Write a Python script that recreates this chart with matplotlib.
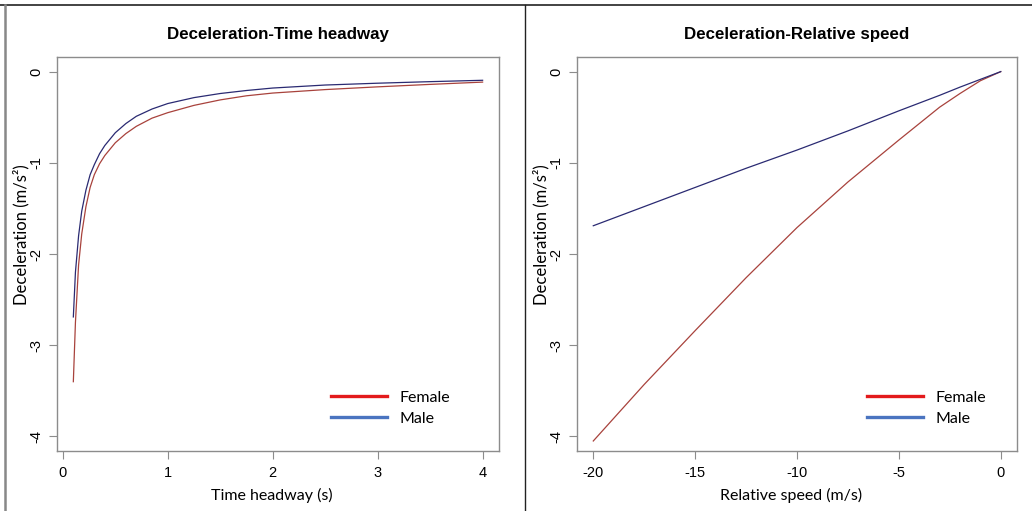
import numpy as np
import matplotlib
matplotlib.use("Agg")
from matplotlib import pyplot as plt
from matplotlib.lines import Line2D

plt.rcParams["axes.unicode_minus"] = False

# Deceleration vs time headway
headway = [0.1, 0.12, 0.15, 0.18, 0.22, 0.26, 0.3, 0.35, 0.4, 0.5, 0.6, 0.7, 0.85, 1.0,
           1.25, 1.5, 1.75, 2.0, 2.5, 3.0, 3.5, 4.0]
decel_headway_female = [-3.40, -2.75, -2.12, -1.78, -1.48, -1.27, -1.13, -1.01, -0.92, -0.78,
                        -0.68, -0.60, -0.51, -0.45, -0.37, -0.31, -0.265, -0.235, -0.197,
                        -0.167, -0.14, -0.115]
decel_headway_male = [-2.69, -2.20, -1.80, -1.53, -1.30, -1.13, -1.02, -0.90, -0.81, -0.67,
                      -0.57, -0.49, -0.41, -0.35, -0.285, -0.24, -0.207, -0.18, -0.147,
                      -0.127, -0.11, -0.095]

# Deceleration vs relative speed
rel_speed = [-20, -17.5, -15, -12.5, -10, -7.5, -5, -3, -2, -1, 0]
decel_speed_female = [-4.05, -3.43, -2.84, -2.26, -1.71, -1.21, -0.75, -0.39, -0.24, -0.10, 0.0]
decel_speed_male = [-1.69, -1.48, -1.27, -1.06, -0.86, -0.65, -0.43, -0.26, -0.17, -0.085, 0.0]

y_ticks = [0, -1, -2, -3, -4]
y_tick_labels = ["0", "-1", "-2", "-3", "-4"]
headway_ticks = [0, 1, 2, 3, 4]
speed_ticks = [-20, -15, -10, -5, 0]
speed_tick_labels = ["-20", "-15", "-10", "-5", "0"]

FEMALE_LINE = "#a8423c"
MALE_LINE = "#2a2a72"
FEMALE_KEY = "#e31a1c"
MALE_KEY = "#4a74c0"
FRAME = "#8c8c8c"

fig = plt.figure(figsize=(10.32, 5.11), dpi=100)

def style_axes(ax, title, xlabel, xticks, xticklabels, xlim, legend_x):
    for s in ax.spines.values():
        s.set_color(FRAME)
        s.set_linewidth(1.0)
    ax.set_xlim(xlim)
    ax.set_ylim(-4.16, 0.16)
    ax.set_xticks(xticks)
    ax.set_xticklabels(xticklabels, family="Liberation Sans", fontsize=10.5)
    ax.set_yticks(y_ticks)
    ax.set_yticklabels(y_tick_labels, family="Liberation Sans", fontsize=10.5,
                       rotation=90, va="center")
    ax.tick_params(length=6, color=FRAME, width=0.8, pad=4)
    ax.tick_params(axis="x", pad=5)
    ax.set_title(title, family="Liberation Sans", fontweight="bold", fontsize=12.2, pad=13)
    ax.set_xlabel(xlabel, family="Lato", fontsize=11.5)
    ax.xaxis.set_label_coords(0.487, -0.095)
    ax.set_ylabel("Deceleration (m/s²)", family="Lato", fontsize=12)
    ax.yaxis.set_label_coords(-0.062, 0.55)
    key = [Line2D([], [], color=FEMALE_KEY, lw=2.4), Line2D([], [], color=MALE_KEY, lw=2.4)]
    ax.legend(key, ["Female", "Male"], loc="upper left", bbox_to_anchor=(legend_x, 0.19),
              frameon=False, handlelength=3.5, handletextpad=0.8, labelspacing=0.42,
              prop={"family": "Lato", "size": 11.5})

ax1 = fig.add_axes([0.0552, 0.1174, 0.4283, 0.771])
ax1.plot(headway, decel_headway_female, color=FEMALE_LINE, lw=0.9)
ax1.plot(headway, decel_headway_male, color=MALE_LINE, lw=0.9)
style_axes(ax1, "Deceleration-Time headway", "Time headway (s)",
           headway_ticks, [str(t) for t in headway_ticks], (-0.056, 4.156), 0.588)

ax2 = fig.add_axes([0.5591, 0.1174, 0.4264, 0.771])
ax2.plot(rel_speed, decel_speed_female, color=FEMALE_LINE, lw=0.9)
ax2.plot(rel_speed, decel_speed_male, color=MALE_LINE, lw=0.9)
style_axes(ax2, "Deceleration-Relative speed", "Relative speed (m/s)",
           speed_ticks, speed_tick_labels, (-20.8, 0.8), 0.627)

# outer frame pieces of the screenshot
fig.add_artist(Line2D([0, 1], [1 - 5 / 511] * 2, color="#222222", lw=1.2))
fig.add_artist(Line2D([5 / 1032] * 2, [0, 1 - 5 / 511], color="#888888", lw=1.8))
fig.add_artist(Line2D([525 / 1032] * 2, [0, 1 - 5 / 511], color="#222222", lw=1.0))

fig.savefig("out.png", dpi=100)
